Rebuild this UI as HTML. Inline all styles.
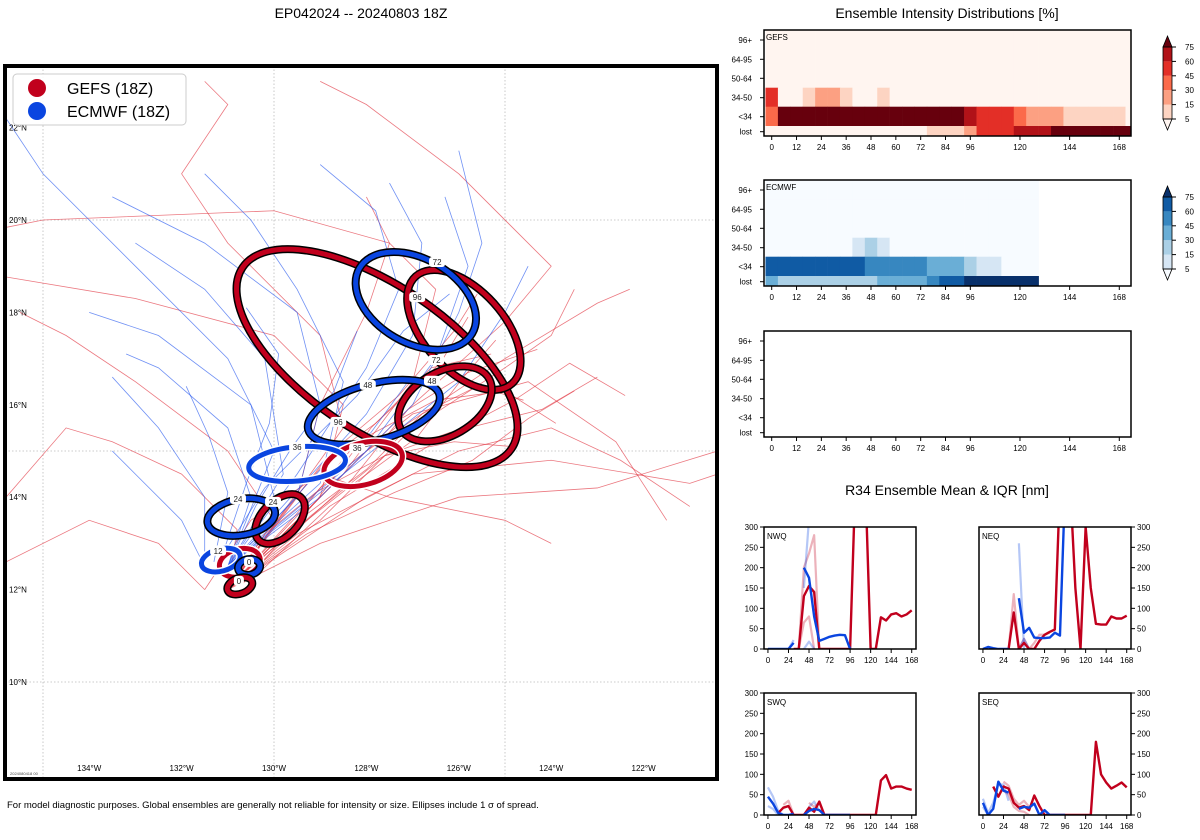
<!DOCTYPE html>
<html><head><meta charset="utf-8"><style>
body{margin:0;background:#fff}
svg{display:block;font-family:"Liberation Sans",sans-serif}
</style></head><body>
<svg id="s" width="1200" height="840" viewBox="0 0 1200 840" xmlns="http://www.w3.org/2000/svg">
<defs>
<clipPath id="mapclip"><rect x="7" y="68" width="708" height="709"/></clipPath>
</defs>
<text x="361" y="18" text-anchor="middle" font-size="14">EP042024 -- 20240803 18Z</text>
<text x="947" y="18" text-anchor="middle" font-size="14">Ensemble Intensity Distributions [%]</text>
<text x="947" y="495" text-anchor="middle" font-size="14">R34 Ensemble Mean &amp; IQR [nm]</text>
<text x="7" y="808" font-size="9.5">For model diagnostic purposes. Global ensembles are generally not reliable for intensity or size. Ellipses include 1 σ of spread.</text>
<g id="map"></g>
<g id="heat"></g>
<g id="r34"></g>
</svg>
<script>
// ---------- MAP DATA ----------
const lonTicks=[-134,-132,-130,-128,-126,-124,-122];
const latTicks=[22,20,18,16,14,12,10];
const gridLons=[-135,-130,-125];
const gridLats=[20,15,10];
const redTracks=[
[[-131,12],[-129,13.5],[-127,15.5],[-125,16.8],[-124,17.5],[-123.5,18.5]],
[[-131,12],[-129.5,13.2],[-127,14.5],[-124,14.8],[-121,14.3],[-120.4,14.5]],
[[-131,12],[-130,13.5],[-131,15],[-133,16.5],[-134.5,17.5],[-135.5,18]],
[[-131,12],[-129,14],[-128.5,16],[-130,17.5],[-133,18.3],[-136,18.8]],
[[-131,12],[-128,14],[-126,15],[-124,15.5],[-122.5,14.8],[-121,13.8]],
[[-131,12],[-128.5,14.5],[-127,16.5],[-126.5,18.5],[-127.5,19.5],[-130,20.2],[-135,20],[-136,19.8]],
[[-131,12],[-128,15],[-125,17],[-123,18.2],[-122.3,18.5]],
[[-131,12],[-129,14.2],[-127,15.8],[-124.5,16.5],[-122.6,15.2],[-121.5,13.5]],
[[-131,12],[-130.8,13.3],[-132,14.5],[-133.5,15.2],[-134.5,15.5],[-135.8,14]],
[[-131,12],[-129,13],[-126,14],[-123,14.2],[-120.4,15]],
[[-131,12],[-128.5,15.5],[-129,17.5],[-131,19.5],[-132,21],[-131,22.5],[-131.5,23]],
[[-131,12],[-129.5,14],[-129,16],[-128,18],[-127.5,19.5],[-128,20.5]],
[[-131.5,12],[-130.5,13.5],[-129,14.5],[-127.5,14],[-125,13.5],[-124,13]],
[[-131,12],[-127,16],[-125,17.8],[-124,19],[-126,21],[-128,22.5],[-129,23]],
[[-131.5,12],[-132.5,13],[-134,13.5],[-136,12.5]],
[[-130.5,12.2],[-128.8,13.8],[-126.5,15.2],[-124.8,16.1],[-123.6,16.9],[-122.4,16.2]],
[[-130.8,12.1],[-129.2,13.6],[-127.6,14.9],[-126.2,15.4],[-124.2,15.9],[-123,16.6]],
[[-131,12],[-129.6,13.4],[-128,14.6],[-126.8,15.8],[-125.6,16.4],[-124.6,16.1]],
[[-131,12],[-129.8,13.1],[-128.4,14.2],[-126.9,15.3],[-125.9,16.6],[-125.2,17.4]],
[[-131,12],[-129.4,13.7],[-128.2,15.2],[-126.5,16.1],[-125,16.3],[-123.9,15.6]],
[[-131,12],[-129.9,13.5],[-128.9,14.8],[-127.8,15.6],[-126.4,16.9],[-125.8,17.9]],
[[-131,12],[-129.3,13.2],[-127.4,14.1],[-125.7,14.8],[-124.5,15.7],[-123.5,16.3]],
[[-130.7,12.1],[-129.1,13.9],[-127.9,15.5],[-126.6,16.8],[-125.3,17.1]],
[[-131,12],[-129.7,13.8],[-128.6,15.1],[-127.3,16.2],[-126.1,17.6],[-125.6,18.4]],
[[-131,12],[-130.2,13.2],[-129.1,14.1],[-127.6,14.9],[-126.1,15.2],[-124.9,15.1]],
[[-130.9,12.2],[-129.5,13.3],[-128.3,14.4],[-127.1,15.9],[-125.8,16.7],[-124.3,17.2]]
];
const blueTracks=[
[[-131,12.5],[-130,14],[-130.5,16],[-132.5,17.5],[-134,18]],
[[-131,12.5],[-129.5,14],[-129,16],[-129.5,18],[-131.5,19.5],[-133.5,20.5]],
[[-131,12.5],[-129,14],[-127,16],[-126,18],[-125.5,19.5],[-126,21.5]],
[[-131,12.5],[-130,15],[-131,17],[-133,19],[-135,21],[-136,22.5]],
[[-131.5,12.5],[-132,13.5],[-133,14.5],[-133.5,15]],
[[-131,12.5],[-128,15],[-126.5,17],[-125.8,19],[-126.3,20.5]],
[[-131,12.5],[-129,14.3],[-128.5,16.5],[-129.5,18.5],[-130.5,20],[-131.5,21]],
[[-131,12.5],[-130.5,14],[-131,15.5],[-132.5,16.8],[-133.2,17.1]],
[[-131,12.5],[-129.5,14.5],[-128,16.8],[-127.3,18.5],[-127.8,20.2],[-129,21.2]],
[[-131,12.5],[-128.5,14.5],[-126,16.5],[-125,18],[-124.5,19]],
[[-131.5,12.5],[-131.5,14],[-132.5,15.5],[-133.5,16.6]],
[[-131,12.5],[-129.8,14.5],[-130.2,17],[-131.5,18.5],[-133,19.5]],
[[-131,12.5],[-128,15.8],[-127,17.5],[-126.8,19.5],[-127.5,20.8]],
[[-131.2,12.6],[-130.2,14.2],[-129.2,15.2],[-128.2,16.2],[-127.2,17.6],[-126.2,18.4]],
[[-131,12.5],[-130.4,13.8],[-129.6,15.1],[-128.7,16.3],[-128.2,17.6]],
[[-131.2,12.5],[-130.6,14.3],[-130.1,15.6],[-129.9,17.1],[-130.6,18.1]],
[[-131,12.5],[-129.9,13.6],[-128.9,14.7],[-127.9,15.4],[-127.1,16.5]],
[[-131.3,12.6],[-131,14.1],[-131.4,15.3],[-131.9,16.4]]
];
// ellipses: model, lon, lat, semi-axis a, b (deg), rotation (deg), outline
const ellModel=["G","G","B","G","B","G","B","G","B","G","B","B","G"];
const ellLon=[-127.77,-125.89,-126.93,-126.30,-127.84,-128.07,-129.50,-129.87,-130.71,-130.74,-131.15,-130.54,-130.74];
const ellLat=[17.01,17.62,18.25,16.02,15.84,14.72,14.72,13.53,13.57,12.58,12.64,12.49,12.08];
const ellA=[3.51,1.56,1.41,1.10,1.47,0.87,1.05,0.65,0.74,0.45,0.43,0.24,0.28];
const ellB=[1.58,0.87,0.91,0.69,0.61,0.45,0.37,0.39,0.39,0.30,0.24,0.17,0.17];
const ellRot=[34,48,30,-30,-15,-15,-5,-45,-10,-15,-15,-10,-20];
const ellEdge=["#000","#000","#000","#000","#000","#fff","#fff","#000","#000","#fff","#fff","#000","#000"];
const labText=["72","96","72","48","48","96","36","36","24","24","12","0","0"];
const labLon=[-126.47,-126.90,-126.49,-126.58,-127.97,-128.61,-129.50,-128.20,-130.78,-130.02,-131.21,-130.54,-130.76];
const labLat=[19.09,18.33,16.97,16.52,16.43,15.63,15.09,15.06,13.96,13.90,12.84,12.60,12.19];

const NS="http://www.w3.org/2000/svg";
function mk(tag,attrs,parent){const e=document.createElementNS(NS,tag);for(const k in attrs)e.setAttribute(k,attrs[k]);parent.appendChild(e);return e;}
const PX=46.2;
const mx=lon=>43+(lon+135)*PX;
const my=lat=>220+(20-lat)*PX;
const RED="#c1001d", BLUE="#0a45e0";

const map=document.getElementById('map');
const clipG=mk('g',{'clip-path':'url(#mapclip)'},map);
gridLons.forEach(l=>{const e=mk('line',{x1:mx(l),x2:mx(l),y1:66,y2:779,stroke:'#bbb','stroke-width':0.8,'stroke-dasharray':'1.5,2'},clipG);

});
gridLats.forEach(l=>{const e=mk('line',{x1:5,x2:717,y1:my(l),y2:my(l),stroke:'#bbb','stroke-width':0.8,'stroke-dasharray':'1.5,2'},clipG);

});
function track(pts,col){const e=mk('polyline',{points:pts.map(p=>mx(p[0])+','+my(p[1])).join(' '),fill:'none',stroke:col,'stroke-width':0.8,'stroke-opacity':0.65},clipG);return e;}
redTracks.forEach(t=>{const e=track(t,'#e0303c');

});
blueTracks.forEach(t=>{const e=track(t,'#2255ee');

});
ellLon.forEach((lon,i)=>{
  const g=mk('g',{transform:`translate(${mx(lon)},${my(ellLat[i])}) rotate(${ellRot[i]})`},clipG);
  
  
  mk('ellipse',{rx:ellA[i]*PX,ry:ellB[i]*PX,fill:'none',stroke:ellEdge[i],'stroke-width':8},g);
  mk('ellipse',{rx:ellA[i]*PX,ry:ellB[i]*PX,fill:'none',stroke:ellModel[i]=="G"?RED:BLUE,'stroke-width':5},g);
});
labText.forEach((t,i)=>{
  const g=mk('g',{},clipG);
  
  
  const x=mx(labLon[i]),y=my(labLat[i]);
  mk('rect',{x:x-t.length*3-2,y:y-5,width:t.length*6+4,height:10,rx:3,fill:'#fff'},g);
  const tx=mk('text',{x:x,y:y+3,'text-anchor':'middle','font-size':8,fill:'#222'},g);tx.textContent=t;
});
const bd=mk('rect',{x:5,y:66,width:712,height:713,fill:'none',stroke:'#000','stroke-width':4},map);


lonTicks.forEach(l=>{const t=mk('text',{x:mx(l),y:771,'text-anchor':'middle','font-size':8},map);t.textContent=Math.abs(l)+'°W';

});
latTicks.forEach(l=>{const t=mk('text',{x:9,y:my(l)+3,'font-size':8},map);t.textContent=l+'°N';

});
const st=mk('text',{x:10,y:775,'font-size':4,fill:'#444'},map);st.textContent='2024080418 00';
const lg=mk('g',{},map);


mk('rect',{x:13,y:74,width:173,height:51,rx:4,fill:'#fff','fill-opacity':0.9,stroke:'#ccc'},lg);
mk('circle',{cx:37,cy:88,r:9,fill:RED},lg);
mk('circle',{cx:37,cy:111,r:9,fill:BLUE},lg);
let lt=mk('text',{x:67,y:94,'font-size':16},lg);lt.textContent='GEFS (18Z)';
lt=mk('text',{x:67,y:117,'font-size':16},lg);lt.textContent='ECMWF (18Z)';

// ---------- HEATMAP DATA ----------
const hours=[0,6,12,18,24,30,36,42,48,54,60,66,72,78,84,90,96,102,108,114,120,126,132,138,144,150,156,162,168,174];
const rowLabels=["96+","64-95","50-64","34-50","<34","lost"];
const xTickHours=[0,12,24,36,48,60,72,84,96,120,144,168];
const levels=[5,15,30,45,60,75];
const redCols=["#fff5f0","#fdd4c2","#fca082","#fb6a4a","#e32f27","#b11218","#67000d"];
const blueCols=["#f7fbff","#d6e6f4","#abd0e6","#6aaed6","#3787c0","#105ba4","#08306b"];
const z30=()=>hours.map(()=>0);
const gefs96=z30(), gefs64=z30(), gefs50=z30();
const gefs34=[50,0,0,10,20,20,10,0,0,10,0,0,0,0,0,0,0,0,0,0,0,0,0,0,0,0,0,0,0,0];
const gefsLt34=[35,80,80,80,80,80,80,80,80,80,80,80,80,80,80,80,65,50,50,50,35,20,20,20,10,10,10,10,10,0];
const gefsLost=[0,0,0,0,0,0,0,0,0,0,0,0,0,10,10,10,20,50,50,50,65,65,65,80,80,80,80,80,80,80];
const N=null;
const ecm96=[0,0,0,0,0,0,0,0,0,0,0,0,0,0,0,0,0,0,0,0,0,0,N,N,N,N,N,N,N,N];
const ecm64=ecm96.slice(), ecm50=ecm96.slice();
const ecm34=[0,0,0,0,0,0,0,10,20,10,0,0,0,0,0,0,0,0,0,0,0,0,N,N,N,N,N,N,N,N];
const ecmLt34=[65,65,65,65,65,65,65,65,50,50,50,50,50,35,35,35,20,10,10,2,2,2,N,N,N,N,N,N,N,N];
const ecmLost=[35,20,20,20,20,20,20,20,20,35,35,35,35,50,65,65,80,80,80,80,80,80,N,N,N,N,N,N,N,N];

const heat=document.getElementById('heat');
const HX0=764,HX1=1131;
const hx=h=>771.7+h*2.069;
const rowTop=[0,19.3,38.5,57.7,76.7,96], rowBot=[19.3,38.5,57.7,76.7,96,106];
const rowTick=[10,29.3,48.3,67.7,86.7,101.7];
function colorFor(v,cols){if(v===null)return null;let k=0;for(let i=0;i<levels.length;i++)if(v>=levels[i])k=i+1;return cols[k];}
function heatPanel(y0,rows,cols,label,cbar){
  const g=mk('g',{},heat);
  
  
  if(rows)rows.forEach((row,r)=>{row.forEach((v,i)=>{const c=colorFor(v,cols);if(!c)return;
    const x0=Math.max(HX0,hx(hours[i]-3)),x1=Math.min(HX1,hx(hours[i]+3));
    const cell=mk('rect',{x:x0,y:y0+rowTop[r],width:x1-x0+0.3,height:rowBot[r]-rowTop[r]+0.3,fill:c},g);
    
    });});
  mk('rect',{x:HX0,y:y0,width:HX1-HX0,height:106,fill:'none',stroke:'#000','stroke-width':1.5},g);
  if(label){const t=mk('text',{x:766,y:y0+10,'font-size':8},g);t.textContent=label;}
  rowLabels.forEach((l,r)=>{mk('line',{x1:HX0-4,x2:HX0,y1:y0+rowTick[r],y2:y0+rowTick[r],stroke:'#000'},g);
    const t=mk('text',{x:HX0-12,y:y0+rowTick[r]+3,'text-anchor':'end','font-size':8},g);t.textContent=l;
    
    });
  xTickHours.forEach(h=>{mk('line',{x1:hx(h),x2:hx(h),y1:y0+106,y2:y0+110,stroke:'#000'},g);
    const t=mk('text',{x:hx(h),y:y0+120,'text-anchor':'middle','font-size':8},g);t.textContent=h;
    
    });
  if(cbar){
    const cb=mk('g',{},g);
    
    
    const cy=l=>y0+89-(levels.indexOf(l))*14.4;
    for(let i=0;i<levels.length-1;i++)mk('rect',{x:1163,y:cy(levels[i+1]),width:9,height:14.4,fill:cols[i+1]},cb);
    mk('polygon',{points:`1163,${cy(5)} 1172,${cy(5)} 1167.5,${cy(5)+11}`,fill:cols[0],stroke:'#000','stroke-width':0.8},cb);
    mk('polygon',{points:`1163,${cy(75)} 1172,${cy(75)} 1167.5,${cy(75)-11}`,fill:cols[6],stroke:'#000','stroke-width':0.8},cb);
    mk('rect',{x:1163,y:cy(75),width:9,height:cy(5)-cy(75),fill:'none',stroke:'#000','stroke-width':0.8},cb);
    levels.forEach(l=>{mk('line',{x1:1172,x2:1176,y1:cy(l),y2:cy(l),stroke:'#000'},cb);
      const t=mk('text',{x:1185,y:cy(l)+3,'font-size':8},cb);t.textContent=l;});
  }
}
heatPanel(30,[gefs96,gefs64,gefs50,gefs34,gefsLt34,gefsLost],redCols,'GEFS',true);
heatPanel(180,[ecm96,ecm64,ecm50,ecm34,ecmLt34,ecmLost],blueCols,'ECMWF',true);
heatPanel(331,null,null,null,false);

// ---------- R34 DATA ----------
const r34Hours=[0,6,12,18,24,30,36,42,48,54,60,66,72,78,84,90,96,102,108,114,120,126,132,138,144,150,156,162,168];
const yTicks=[0,50,100,150,200,250,300];
const r34XTicks=[0,24,48,72,96,120,144,168];
const nwqGefs=[N,N,N,N,N,0,0,130,155,140,0,0,0,0,0,0,0,400,400,400,0,0,78,70,85,88,80,85,95];
const nwqGefsHi=[N,N,N,N,N,N,0,200,235,280,0,N,N,N,N,N,N,N,N,N,N,N,N,N,N,N,N,N,N];
const nwqGefsLo=[N,N,N,N,N,N,0,65,80,0,N,N,N,N,N,N,N,N,N,N,N,N,N,N,N,N,N,N,N];
const nwqEcm=[0,0,0,0,0,15,N,200,175,80,20,25,30,33,35,34,0,N,N,N,N,N,N,N,N,N,N,N,N];
const nwqEcmHi=[N,N,N,N,0,22,N,150,320,N,N,N,N,N,N,N,N,N,N,N,N,N,N,N,N,N,N,N,N];
const nwqEcmLo=[N,N,N,N,N,N,N,0,18,0,N,N,N,N,N,N,N,N,N,N,N,N,N,N,N,N,N,N,N];
const neqGefs=[N,N,N,N,N,0,90,0,15,0,0,20,35,42,48,400,400,400,150,0,300,150,62,60,60,80,75,75,82];
const neqGefsHi=[N,N,N,N,N,0,135,0,25,0,15,35,35,40,N,N,N,N,N,N,N,N,N,N,N,N,N,N,N];
const neqGefsLo=[N,N,N,N,N,N,N,N,N,N,N,N,N,N,N,N,N,N,N,N,N,N,N,N,N,N,N,N,N];
const neqEcm=[0,5,2,0,0,0,N,125,40,52,28,27,27,28,40,33,400,N,N,N,N,N,N,N,N,N,N,N,N];
const neqEcmHi=[N,N,N,N,N,N,N,260,0,N,N,N,N,N,N,N,N,N,N,N,N,N,N,N,N,N,N,N,N];
const neqEcmLo=[N,N,N,N,N,N,N,0,25,0,N,N,N,N,N,N,N,N,N,N,N,N,N,N,N,N,N,N,N];
const swqGefs=[N,N,5,18,22,0,0,0,18,8,33,0,0,0,0,0,0,0,0,0,0,0,85,98,65,70,70,65,62];
const swqGefsHi=[N,N,N,25,35,0,N,N,30,20,30,0,N,N,N,N,N,N,N,N,N,N,N,N,N,N,N,N,N];
const swqGefsLo=[N,N,N,N,N,N,N,N,N,N,N,N,N,N,N,N,N,N,N,N,N,N,N,N,N,N,N,N,N];
const swqEcm=[45,28,5,0,0,3,N,0,10,15,12,0,0,0,0,0,0,N,N,N,N,N,N,N,N,N,N,N,N];
const swqEcmHi=[68,45,10,0,N,N,N,N,20,33,10,N,N,N,N,N,N,N,N,N,N,N,N,N,N,N,N,N,N];
const swqEcmLo=[22,15,0,N,N,N,N,N,N,N,N,N,N,N,N,N,N,N,N,N,N,N,N,N,N,N,N,N,N];
const seqGefs=[N,N,70,45,70,65,30,18,22,12,48,22,0,0,0,0,0,0,0,0,0,0,180,100,80,65,72,80,68];
const seqGefsHi=[N,N,N,N,82,72,40,25,35,20,N,N,N,N,N,N,N,N,N,N,N,N,N,N,N,N,N,N,N];
const seqGefsLo=[N,N,N,N,60,50,20,10,8,0,N,N,N,N,N,N,N,N,N,N,N,N,N,N,N,N,N,N,N];
const seqEcm=[30,0,15,82,60,55,N,15,20,18,28,0,12,0,0,0,0,N,N,N,N,N,N,N,N,N,N,N,N];
const seqEcmHi=[40,5,30,75,75,35,N,N,N,N,N,N,N,N,N,N,N,N,N,N,N,N,N,N,N,N,N,N,N];
const seqEcmLo=[20,0,N,N,N,N,N,N,N,N,N,N,N,N,N,N,N,N,N,N,N,N,N,N,N,N,N,N,N];

const r34=document.getElementById('r34');
let cid=0;
function r34Panel(x0,y0,name,left,series){
  const W=152,H=122,X1=x0+W,Y1=y0+H;
  const sx=h=>x0+(h+4.6)*(W/177.6);
  const sy=v=>Y1-v*(H/300);
  const g=mk('g',{},r34);
  
  
  const id='c'+(cid++);
  const cp=mk('clipPath',{id:id},g);mk('rect',{x:x0,y:y0,width:W,height:H},cp);
  const lg=mk('g',{'clip-path':`url(#${id})`},g);
  series.forEach(s=>{
    let seg=[];const segs=[];
    s.d.forEach((v,i)=>{if(v===null){if(seg.length)segs.push(seg);seg=[];}else seg.push(sx(r34Hours[i])+','+sy(v));});
    if(seg.length)segs.push(seg);
    segs.forEach(sg=>{if(sg.length<2)return;const p=mk('polyline',{points:sg.join(' '),fill:'none',stroke:s.c,'stroke-width':s.w,'stroke-opacity':s.o,'stroke-linejoin':'round'},lg);
      
      });
  });
  mk('rect',{x:x0,y:y0,width:W,height:H,fill:'none',stroke:'#000','stroke-width':1.5},g);
  const t=mk('text',{x:x0+3,y:y0+12,'font-size':8},g);t.textContent=name;
  yTicks.forEach(v=>{const xx=left?x0:X1;mk('line',{x1:left?xx-4:xx,x2:left?xx:xx+4,y1:sy(v),y2:sy(v),stroke:'#000'},g);
    const tt=mk('text',{x:left?xx-6:xx+6,y:sy(v)+3,'text-anchor':left?'end':'start','font-size':8},g);tt.textContent=v;
    
    });
  r34XTicks.forEach(h=>{mk('line',{x1:sx(h),x2:sx(h),y1:Y1,y2:Y1+4,stroke:'#000'},g);
    const tt=mk('text',{x:sx(h),y:Y1+14,'text-anchor':'middle','font-size':8},g);tt.textContent=h;
    
    });
}
function ser(gm,gh,gl,em,eh,el){return [
  {d:gh,c:RED,w:2.2,o:0.3,n:'gefs-iqr-upper'},{d:gl,c:RED,w:2.2,o:0.3,n:'gefs-iqr-lower'},
  {d:eh,c:BLUE,w:2.2,o:0.3,n:'ecmwf-iqr-upper'},{d:el,c:BLUE,w:2.2,o:0.3,n:'ecmwf-iqr-lower'},
  {d:gm,c:RED,w:2.4,o:1,n:'gefs-mean-line'},{d:em,c:BLUE,w:2.4,o:1,n:'ecmwf-mean-line'}];}
r34Panel(764,527,'NWQ',true,ser(nwqGefs,nwqGefsHi,nwqGefsLo,nwqEcm,nwqEcmHi,nwqEcmLo));
r34Panel(979,527,'NEQ',false,ser(neqGefs,neqGefsHi,neqGefsLo,neqEcm,neqEcmHi,neqEcmLo));
r34Panel(764,693,'SWQ',true,ser(swqGefs,swqGefsHi,swqGefsLo,swqEcm,swqEcmHi,swqEcmLo));
r34Panel(979,693,'SEQ',false,ser(seqGefs,seqGefsHi,seqGefsLo,seqEcm,seqEcmHi,seqEcmLo));
</script>
</body></html>
